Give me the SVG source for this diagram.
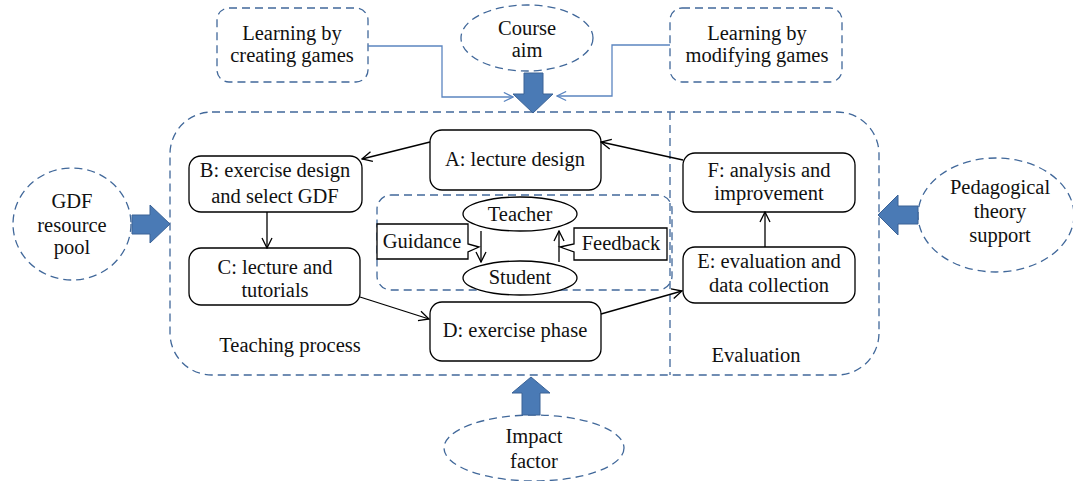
<svg xmlns="http://www.w3.org/2000/svg" width="1073" height="481" viewBox="0 0 1073 481">
<style>
.dash{fill:none;stroke:#41689A;stroke-width:1.3;stroke-dasharray:8 5}
.node{fill:#fff;stroke:#000;stroke-width:1.3}
.t{font-family:"Liberation Serif",serif;font-size:20.5px;fill:#111;text-anchor:middle}
.conn{fill:none;stroke:#000;stroke-width:1.3}
.blue{fill:none;stroke:#5B85C0;stroke-width:1.3}
.block{fill:#4A7AB5;stroke:#3A6296;stroke-width:1}
</style>
<defs>
<marker id="ah" viewBox="0 0 12 12" refX="11" refY="6" markerWidth="12" markerHeight="12" markerUnits="userSpaceOnUse" orient="auto">
<path d="M1,1 L11,6 L1,11" fill="none" stroke="#000" stroke-width="1.3"/>
</marker>
<marker id="ahb" viewBox="0 0 12 12" refX="11" refY="6" markerWidth="11" markerHeight="11" markerUnits="userSpaceOnUse" orient="auto">
<path d="M1,1 L11,6 L1,11" fill="none" stroke="#5B85C0" stroke-width="1.3"/>
</marker>
</defs>
<rect width="1073" height="481" fill="#fff"/>

<g id="outer">
<rect class="dash" x="170" y="112" width="709" height="263" rx="42"/>
<line class="dash" x1="670" y1="112" x2="670" y2="375"/>
<text class="t" x="290" y="352">Teaching process</text>
<text class="t" x="756" y="362">Evaluation</text>
</g>

<g id="inner">
<rect class="dash" x="377" y="195" width="295" height="95" rx="14"/>
</g>

<g id="creating">
<rect class="dash" x="217" y="8" width="151" height="74" rx="12"/>
<text class="t" x="292" y="40">Learning by</text>
<text class="t" x="292" y="62">creating games</text>
</g>
<g id="courseaim">
<ellipse class="dash" cx="527" cy="38" rx="66" ry="33"/>
<text class="t" x="527" y="35">Course</text>
<text class="t" x="527" y="57">aim</text>
</g>
<g id="modifying">
<rect class="dash" x="670" y="8" width="172" height="74" rx="12"/>
<text class="t" x="757" y="40">Learning by</text>
<text class="t" x="757" y="62">modifying games</text>
</g>
<g id="gdf">
<ellipse class="dash" cx="72" cy="224" rx="59" ry="56"/>
<text class="t" x="72" y="208">GDF</text>
<text class="t" x="72" y="232">resource</text>
<text class="t" x="72" y="254">pool</text>
</g>
<g id="pedagogical">
<ellipse class="dash" cx="996" cy="215" rx="78" ry="57"/>
<text class="t" x="1000" y="194">Pedagogical</text>
<text class="t" x="1000" y="218">theory</text>
<text class="t" x="1000" y="242">support</text>
</g>
<g id="impact">
<ellipse class="dash" cx="534" cy="448" rx="90" ry="33"/>
<text class="t" x="534" y="443">Impact</text>
<text class="t" x="534" y="468">factor</text>
</g>

<g id="A">
<rect class="node" x="430" y="130" width="171" height="60" rx="12"/>
<text class="t" x="515" y="166">A: lecture design</text>
</g>
<g id="B">
<rect class="node" x="189" y="156" width="173" height="56" rx="12"/>
<text class="t" x="275" y="177">B: exercise design</text>
<text class="t" x="275" y="203">and select GDF</text>
</g>
<g id="C">
<rect class="node" x="189" y="248" width="171" height="57" rx="12"/>
<text class="t" x="275" y="274">C: lecture and</text>
<text class="t" x="275" y="297">tutorials</text>
</g>
<g id="D">
<rect class="node" x="430" y="302" width="171" height="59" rx="12"/>
<text class="t" x="515" y="337">D: exercise phase</text>
</g>
<g id="E">
<rect class="node" x="683" y="247" width="172" height="56" rx="12"/>
<text class="t" x="769" y="268">E: evaluation and</text>
<text class="t" x="769" y="292">data collection</text>
</g>
<g id="F">
<rect class="node" x="683" y="153" width="172" height="59" rx="12"/>
<text class="t" x="769" y="177">F: analysis and</text>
<text class="t" x="769" y="200">improvement</text>
</g>
<g id="teacher">
<ellipse class="node" cx="520" cy="214" rx="57" ry="17"/>
<text class="t" x="520" y="221">Teacher</text>
</g>
<g id="student">
<ellipse class="node" cx="520" cy="278" rx="57" ry="17"/>
<text class="t" x="520" y="284">Student</text>
</g>
<g id="guidance">
<path class="node" d="M377,224 H468 V244 L479,247 L468,252 V259 H377 Z"/>
<text class="t" x="422" y="248">Guidance</text>
</g>
<g id="feedback">
<path class="node" d="M667,228 H574 V244 L560,247 L574,252 V260 H667 Z"/>
<text class="t" x="621" y="250">Feedback</text>
</g>

<g id="connectors">
<polyline class="blue" points="368,46 442,46 442,97 513,97" marker-end="url(#ahb)"/>
<polyline class="blue" points="670,45 612,45 612,96 557,96" marker-end="url(#ahb)"/>
<line class="conn" x1="430" y1="142" x2="362" y2="159" marker-end="url(#ah)"/>
<line class="conn" x1="267" y1="212" x2="267" y2="248" marker-end="url(#ah)"/>
<line class="conn" x1="360" y1="297" x2="429" y2="319" marker-end="url(#ah)"/>
<line class="conn" x1="601" y1="314" x2="682" y2="291" marker-end="url(#ah)"/>
<line class="conn" x1="765" y1="247" x2="765" y2="212" marker-end="url(#ah)"/>
<line class="conn" x1="683" y1="160" x2="601" y2="142" marker-end="url(#ah)"/>
<line class="conn" x1="481" y1="231" x2="481" y2="262" marker-end="url(#ah)"/>
<line class="conn" x1="559" y1="262" x2="559" y2="231" marker-end="url(#ah)"/>
<polygon class="block" points="524,73 543,73 543,94 553,94 533,113 513,94 524,94"/>
<polygon class="block" points="132,215 150,215 150,205 170,224 150,243 150,234 132,234"/>
<polygon class="block" points="918,206 898,206 898,195 878,215 898,235 898,224 918,224"/>
<polygon class="block" points="522,415 540,415 540,393 550,393 531,377 512,393 522,393"/>
</g>
</svg>
